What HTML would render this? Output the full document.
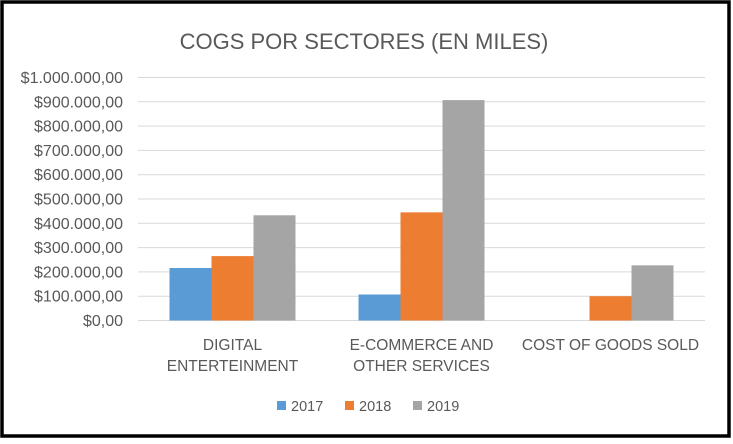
<!DOCTYPE html>
<html><head><meta charset="utf-8"><style>
body{margin:0;background:#fff;}
svg{display:block;font-family:"Liberation Sans",Calibri,sans-serif;}
</style></head><body>
<svg id="chart" width="733" height="444">
<rect x="2" y="2" width="727" height="434" fill="#fff" stroke="#000" stroke-width="3.5"/>
<text x="364" y="49" text-anchor="middle" font-size="22" fill="#595959">COGS POR SECTORES (EN MILES)</text>
<g id="grid"></g><g id="bars"></g><g id="xl"></g>
<g font-size="14.5" fill="#595959">
<rect x="277" y="401" width="9" height="9" fill="#5b9bd5"/><text x="291" y="411">2017</text>
<rect x="345" y="401" width="9" height="9" fill="#ed7d31"/><text x="359" y="411">2018</text>
<rect x="413" y="401" width="9" height="9" fill="#a5a5a5"/><text x="427" y="411">2019</text>
</g>
</svg>
<script>
const categories=[["DIGITAL","ENTERTEINMENT"],["E-COMMERCE AND","OTHER SERVICES"],["COST OF GOODS SOLD"]];
const s2017=[216000,107000,0];
const s2018=[265000,445000,100000];
const s2019=[433000,907000,227000];
const ticks=[0,100000,200000,300000,400000,500000,600000,700000,800000,900000,1000000];
const tickLabels=["$0,00","$100.000,00","$200.000,00","$300.000,00","$400.000,00","$500.000,00","$600.000,00","$700.000,00","$800.000,00","$900.000,00","$1.000.000,00"];
const NS="http://www.w3.org/2000/svg";
const x0=138,x1=705,y0=320.5,y1=77.5;
const y=v=>y0-(v/1000000)*(y0-y1);
const gw=(x1-x0)/categories.length;
const grid=document.getElementById('grid');
ticks.forEach((t,i)=>{
 const l=document.createElementNS(NS,'line');
 l.setAttribute('x1',x0);l.setAttribute('x2',x1);l.setAttribute('y1',y(t));l.setAttribute('y2',y(t));
 l.setAttribute('stroke','#d9d9d9');l.setAttribute('stroke-width','1');
 
 
 grid.appendChild(l);
 const tx=document.createElementNS(NS,'text');
 tx.setAttribute('x',123);tx.setAttribute('y',y(t)+5.5);tx.setAttribute('text-anchor','end');
 tx.setAttribute('font-size','16');tx.setAttribute('fill','#595959');tx.textContent=tickLabels[i];
 
 
 grid.appendChild(tx);
});
const series=[[s2017,'#5b9bd5','2017'],[s2018,'#ed7d31','2018'],[s2019,'#a5a5a5','2019']];
const bw=42;
const bars=document.getElementById('bars'),xl=document.getElementById('xl');
categories.forEach((c,i)=>{
 const cx=x0+gw*(i+0.5);
 series.forEach((s,j)=>{
  const v=s[0][i];
  const r=document.createElementNS(NS,'rect');
  r.setAttribute('x',cx-1.5*bw+j*bw);r.setAttribute('width',bw);
  r.setAttribute('y',y(v));r.setAttribute('height',y0-y(v));r.setAttribute('fill',s[1]);
  
  
  bars.appendChild(r);
 });
 c.forEach((line,k)=>{
  const t=document.createElementNS(NS,'text');
  t.setAttribute('x',cx);t.setAttribute('y',350+k*21);t.setAttribute('text-anchor','middle');
  t.setAttribute('font-size','15.5');t.setAttribute('fill','#595959');t.textContent=line;
  
  
  xl.appendChild(t);
 });
});
</script>
</body></html>
